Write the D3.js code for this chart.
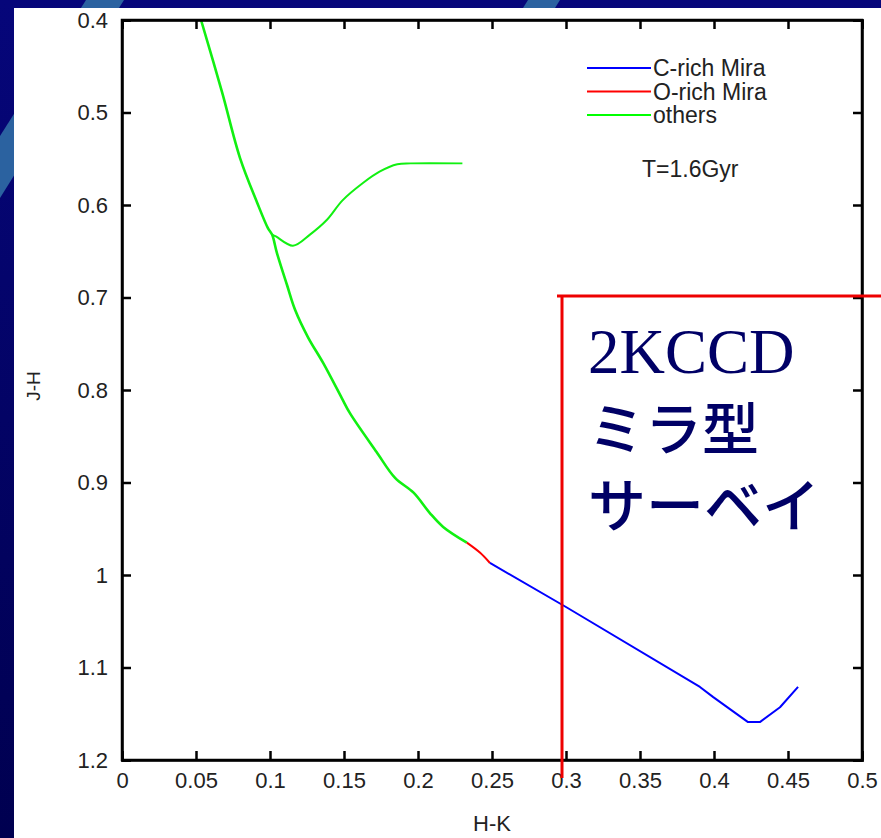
<!DOCTYPE html>
<html><head><meta charset="utf-8">
<script src="https://cdn.jsdelivr.net/npm/d3@7"></script>
<style>
html,body{margin:0;padding:0;background:#00005a;}
svg{display:block;}
</style></head>
<body>
<svg id="chart" width="881" height="838"></svg>
<script>
// ---- data ----
const xTicks = [0,0.05,0.1,0.15,0.2,0.25,0.3,0.35,0.4,0.45,0.5];
const xTickLabels = ["0","0.05","0.1","0.15","0.2","0.25","0.3","0.35","0.4","0.45","0.5"];
const yTicks = [0.4,0.5,0.6,0.7,0.8,0.9,1.0,1.1,1.2];
const yTickLabels = ["0.4","0.5","0.6","0.7","0.8","0.9","1","1.1","1.2"];

const othersMainHK = [0.0534,0.0676,0.0797,0.0912,0.0986,0.1014,0.1047,0.1115,0.117,0.1257,0.136,0.1486,0.154,0.172,0.1845,0.197,0.208,0.217,0.233];
const othersMainJH = [0.4,0.478,0.549,0.597,0.625,0.632,0.652,0.6865,0.7135,0.743,0.771,0.809,0.825,0.867,0.895,0.911,0.933,0.948,0.965];
const othersBranchHK = [0.1014,0.104,0.1155,0.127,0.1385,0.149,0.163,0.174,0.186,0.195,0.230];
const othersBranchJH = [0.632,0.634,0.644,0.632,0.616,0.595,0.576,0.564,0.556,0.555,0.555];
const oRichHK = [0.233,0.242,0.2486];
const oRichJH = [0.965,0.976,0.987];
const cRichHK = [0.2486,0.3,0.3905,0.3995,0.423,0.431,0.4446,0.4568];
const cRichJH = [0.987,1.0346,1.121,1.132,1.159,1.159,1.143,1.121];

const legendLabels = ["C-rich Mira","O-rich Mira","others"];
const legendColors = ["#0000ff","#ff0000","#00ff00"];
const annotation = "T=1.6Gyr";
const overlayLines = ["2KCCD","ミラ型","サーベイ"];

// ---- drawing ----
const svg = d3.select("#chart");
const W = 881, H = 838;

// background
svg.append("rect").attr("width",W).attr("height",H).attr("fill","#00005a");
const defs = svg.append("defs");
const lg = defs.append("linearGradient").attr("id","bgGrad").attr("x1","0").attr("y1","0").attr("x2","0").attr("y2","1");
lg.append("stop").attr("offset","0").attr("stop-color","#06067a");
lg.append("stop").attr("offset","1").attr("stop-color","#000050");
svg.append("rect").attr("width",W).attr("height",H).attr("fill","url(#bgGrad)");
svg.append("polygon").attr("points","86,0 124,0 0,198 0,136").attr("fill","#2b62a0");
svg.append("polygon").attr("points","528,0 560,0 555,8 523,8").attr("fill","#2b62a0");

// white panel
svg.append("rect").attr("x",14).attr("y",8).attr("width",W-14).attr("height",H-8).attr("fill","#ffffff");

const x = d3.scaleLinear().domain([0,0.5]).range([122,862]);
const y = d3.scaleLinear().domain([0.4,1.2]).range([20,760]);
const font = "'Liberation Sans', Arial, sans-serif";

// lines
const line = d3.line().x(d=>x(d[0])).y(d=>y(d[1])).curve(d3.curveCatmullRom.alpha(0.5));
const lineStraight = d3.line().x(d=>x(d[0])).y(d=>y(d[1]));
const zip = (a,b)=>a.map((v,i)=>[v,b[i]]);
const g = svg.append("g");
g.append("path").attr("d",line(zip(othersBranchHK,othersBranchJH))).attr("fill","none").attr("stroke","#11f011").attr("stroke-width",2);
g.append("path").attr("d",line(zip(othersMainHK,othersMainJH))).attr("fill","none").attr("stroke","#11f011").attr("stroke-width",2.6).attr("stroke-linejoin","round");
g.append("path").attr("d",line(zip(oRichHK,oRichJH))).attr("fill","none").attr("stroke","#ff0000").attr("stroke-width",2);
g.append("path").attr("d",lineStraight(zip(cRichHK,cRichJH))).attr("fill","none").attr("stroke","#0000ff").attr("stroke-width",2).attr("stroke-linejoin","round");

// axes (inward ticks on all sides)
const axB = svg.append("g").attr("transform",`translate(0,${y(1.2)})`)
  .call(d3.axisBottom(x).tickValues(xTicks).tickFormat((d,i)=>xTickLabels[i]).tickSize(-9).tickPadding(12));
const axT = svg.append("g").attr("transform",`translate(0,${y(0.4)})`)
  .call(d3.axisTop(x).tickValues(xTicks).tickFormat("").tickSize(-9));
const axL = svg.append("g").attr("transform",`translate(${x(0)},0)`)
  .call(d3.axisLeft(y).tickValues(yTicks).tickFormat((d,i)=>yTickLabels[i]).tickSize(-9).tickPadding(14));
const axR = svg.append("g").attr("transform",`translate(${x(0.5)},0)`)
  .call(d3.axisRight(y).tickValues(yTicks).tickFormat("").tickSize(-9));
[axB,axT,axL,axR].forEach(a=>{
  a.select(".domain").attr("stroke","#000").attr("stroke-width",2.5);
  a.selectAll(".tick line").attr("stroke","#000").attr("stroke-width",2.5);
  a.selectAll("text").attr("font-family",font).attr("font-size",22).attr("fill","#222");
});
// frame
svg.append("rect").attr("x",x(0)).attr("y",y(0.4)).attr("width",x(0.5)-x(0)).attr("height",y(1.2)-y(0.4))
  .attr("fill","none").attr("stroke","#000").attr("stroke-width",2.5);

// axis titles
svg.append("text").attr("x",492).attr("y",831).attr("text-anchor","middle")
  .attr("font-family",font).attr("font-size",22).attr("fill","#222").text("H-K");
svg.append("text").attr("transform","translate(40,386) rotate(-90)").attr("text-anchor","middle")
  .attr("font-family",font).attr("font-size",19).attr("fill","#222").text("J-H");

// legend
const leg = svg.append("g");
legendLabels.forEach((lab,i)=>{
  const yy = 68 + i*23.5;
  leg.append("line").attr("x1",587).attr("x2",651).attr("y1",yy).attr("y2",yy)
    .attr("stroke",legendColors[i]).attr("stroke-width",1.8);
  leg.append("text").attr("x",653).attr("y",yy+8).attr("font-family",font).attr("font-size",23)
    .attr("fill","#222").text(lab);
});
svg.append("text").attr("x",642).attr("y",177).attr("font-family",font).attr("font-size",23)
  .attr("fill","#222").text(annotation);

// overlay red bracket and text
svg.append("line").attr("x1",557).attr("x2",881).attr("y1",296).attr("y2",296).attr("stroke","#ee0000").attr("stroke-width",3);
svg.append("line").attr("x1",562).attr("x2",562).attr("y1",296).attr("y2",778).attr("stroke","#ee0000").attr("stroke-width",3);
svg.append("text").attr("x",588).attr("y",373).attr("font-family","'Liberation Serif','Times New Roman',serif")
  .attr("font-size",63).attr("fill","#000066").text(overlayLines[0]);
svg.append("text").attr("x",588).attr("y",450).attr("font-family","'Noto Sans CJK JP',sans-serif")
  .attr("font-size",57).attr("font-weight",500).attr("fill","#000066").text(overlayLines[1]);
svg.append("text").attr("x",588).attr("y",527).attr("font-family","'Noto Sans CJK JP',sans-serif")
  .attr("font-size",58).attr("font-weight",500).attr("fill","#000066").text(overlayLines[2]);
</script>
</body></html>
